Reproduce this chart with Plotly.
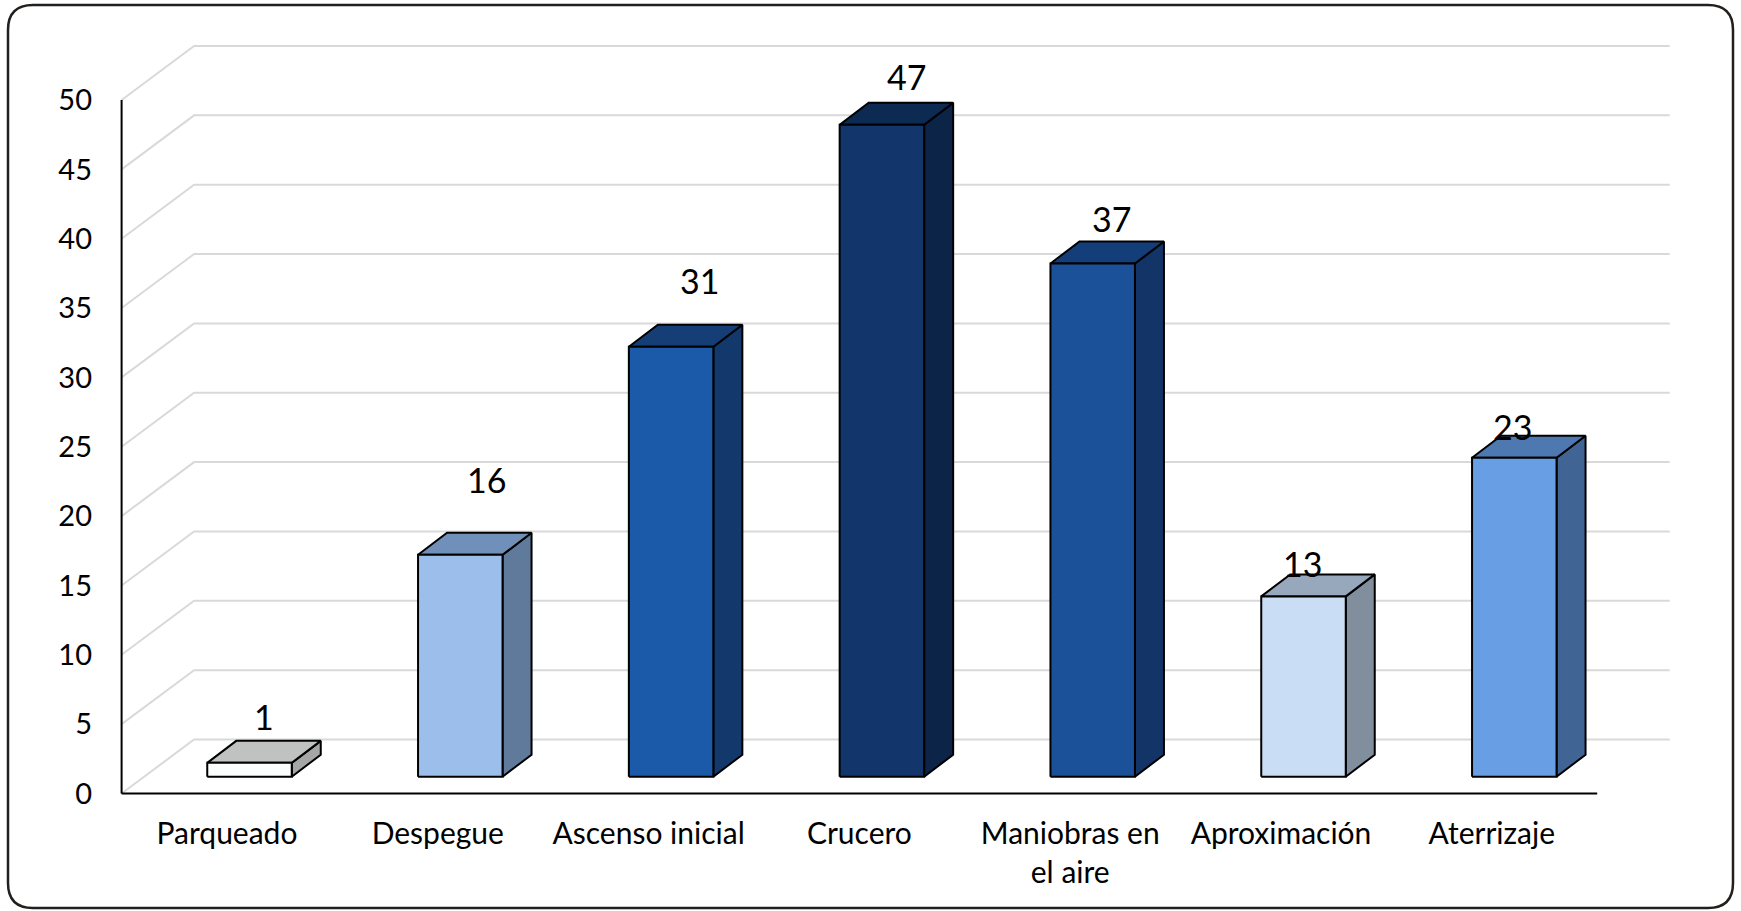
import plotly.graph_objects as go

# ---------------- data ----------------
categories = ["Parqueado", "Despegue", "Ascenso inicial", "Crucero",
              "Maniobras en el aire", "Aproximación", "Aterrizaje"]
tick_labels = ["Parqueado", "Despegue", "Ascenso inicial", "Crucero",
               "Maniobras en<br>el aire", "Aproximación", "Aterrizaje"]
values = [1, 16, 31, 47, 37, 13, 23]
y_ticks = [0, 5, 10, 15, 20, 25, 30, 35, 40, 45, 50]

# ---------------- styles ----------------
front_colors = ["#FBFCFC", "#9BBEEB", "#1B5AA8", "#12366B", "#1A5199", "#C9DDF5", "#679EE4"]
top_colors = ["#C0C2C1", "#7190B9", "#143E75", "#0D2A52", "#133E7A", "#97A8BD", "#4D79B0"]
side_colors = ["#A5A6A5", "#5F7A9A", "#12386C", "#0B2447", "#123467", "#808E9E", "#406595"]
label_nudge_x = [14, 26, 28, 25, 19, -1, -2]     # px
label_nudge_y = [46, 75, 66, 48, 45, 33, 31]     # px

FONT = "Lato"
W, H = 1741, 911
ML, MR, MT, MB = 96, 56, 36, 111
PX_X = 210.8   # px per category unit
PX_Y = 13.87   # px per value unit
PLOT_W = W - ML - MR
PLOT_H = H - MT - MB
x0 = -(227 - ML) / PX_X
x1 = x0 + PLOT_W / PX_X
y0 = -(H - MB - 793.5) / PX_Y
y1 = y0 + PLOT_H / PX_Y

# 3D projection offsets (data units)
FLOOR_DX, FLOOR_DY = 72.5 / PX_X, 54 / PX_Y
BAR_SHIFT_X, BAR_SHIFT_Y = 22.5 / PX_X, 16.8 / PX_Y
BAR_HALF = 42.25 / PX_X
BAR_DX, BAR_DY = 29 / PX_X, 22 / PX_Y

n = len(categories)
xl_wall, xr_wall = -0.5, n - 0.5

fig = go.Figure()

# back-wall gridlines (slanted side + horizontal back)
gx, gy = [], []
for t in y_ticks:
    gx += [xl_wall, xl_wall + FLOOR_DX, xr_wall + FLOOR_DX, None]
    gy += [t, t + FLOOR_DY, t + FLOOR_DY, None]
fig.add_trace(go.Scatter(x=gx, y=gy, mode="lines", line=dict(color="#D9D9D9", width=2),
                         hoverinfo="skip", showlegend=False))

# left value axis line
fig.add_trace(go.Scatter(x=[xl_wall, xl_wall], y=[0, y_ticks[-1]], mode="lines",
                         line=dict(color="#000000", width=2), hoverinfo="skip", showlegend=False))


def poly(xs, ys, color):
    fig.add_trace(go.Scatter(x=xs + [xs[0]], y=ys + [ys[0]], mode="lines", fill="toself",
                             fillcolor=color, line=dict(color="#000000", width=2),
                             hoverinfo="skip", showlegend=False))


annotations = []
for i, v in enumerate(values):
    c = i + BAR_SHIFT_X
    xl, xr = c - BAR_HALF, c + BAR_HALF
    yb, yt = BAR_SHIFT_Y, v + BAR_SHIFT_Y
    # side
    poly([xr, xr + BAR_DX, xr + BAR_DX, xr], [yb, yb + BAR_DY, yt + BAR_DY, yt], side_colors[i])
    # top
    poly([xl, xr, xr + BAR_DX, xl + BAR_DX], [yt, yt, yt + BAR_DY, yt + BAR_DY], top_colors[i])
    # front
    poly([xl, xr, xr, xl], [yb, yb, yt, yt], front_colors[i])
    annotations.append(dict(x=c, y=yt, xref="x", yref="y", text=str(v), showarrow=False,
                            xanchor="center", yanchor="middle",
                            xshift=label_nudge_x[i], yshift=label_nudge_y[i],
                            font=dict(family=FONT, size=34, color="#000000")))

# floor front edge (category axis line)
fig.add_trace(go.Scatter(x=[xl_wall, xr_wall], y=[0, 0], mode="lines",
                         line=dict(color="#000000", width=2), hoverinfo="skip", showlegend=False))


# outer rounded border (paper coords from pixels)
def px2paper(px, py):
    return (px - ML) / PLOT_W, (H - MB - py) / PLOT_H


bl, bt, br, bb, r = 8, 5, 1733, 908, 25


def P(px, py):
    a, b = px2paper(px, py)
    return f"{a:.5f},{b:.5f}"


path = (f"M {P(bl + r, bt)} L {P(br - r, bt)} Q {P(br, bt)} {P(br, bt + r)} "
        f"L {P(br, bb - r)} Q {P(br, bb)} {P(br - r, bb)} "
        f"L {P(bl + r, bb)} Q {P(bl, bb)} {P(bl, bb - r)} "
        f"L {P(bl, bt + r)} Q {P(bl, bt)} {P(bl + r, bt)} Z")

fig.update_layout(
    width=W, height=H,
    margin=dict(l=ML, r=MR, t=MT, b=MB),
    paper_bgcolor="#FFFFFF", plot_bgcolor="rgba(0,0,0,0)",
    showlegend=False,
    font=dict(family=FONT, color="#000000"),
    annotations=annotations,
    shapes=[dict(type="path", xref="paper", yref="paper", path=path,
                 line=dict(color="#231F1C", width=2.5), fillcolor="rgba(0,0,0,0)", layer="below")],
    xaxis=dict(range=[x0, x1], showgrid=False, zeroline=False, showline=False,
               tickmode="array", tickvals=list(range(n)), ticktext=tick_labels,
               ticks="", ticklabelstandoff=13, tickfont=dict(family=FONT, size=30, color="#000000"),
               fixedrange=True),
    yaxis=dict(range=[y0, y1], showgrid=False, zeroline=False, showline=False,
               tickmode="array", tickvals=y_ticks, ticktext=[str(t) for t in y_ticks],
               ticks="", ticklabelstandoff=3, tickfont=dict(family=FONT, size=29, color="#000000"),
               fixedrange=True),
)

fig.write_html("out.html", config={"displayModeBar": False},
               post_script="document.body.style.margin='0';document.body.style.overflow='hidden';")
